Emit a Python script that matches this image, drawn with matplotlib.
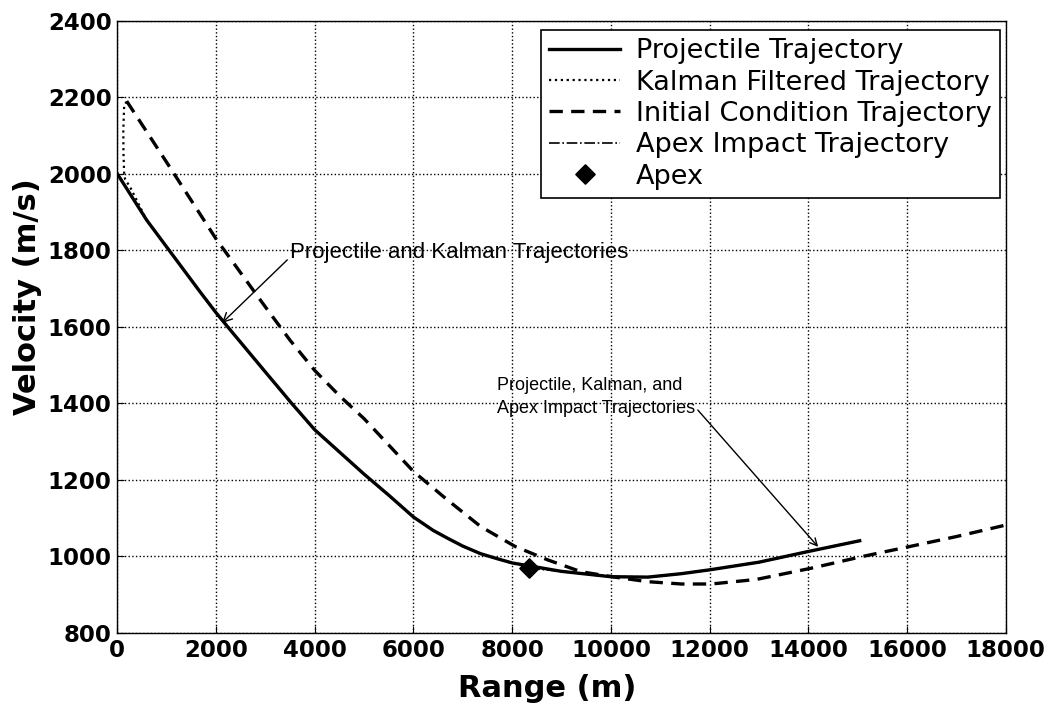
import matplotlib
matplotlib.use("Agg")
import matplotlib.pyplot as plt

proj_range = [0, 595, 1668, 2000, 2237, 3000, 3533, 4000, 5000, 5500, 6000, 6400,
              6685, 7000, 7363, 7700, 8000, 9000, 10000, 10750, 11430, 12000, 13000,
              14000, 15040]
proj_vel = [2000, 1879, 1693, 1637, 1600, 1482, 1400, 1331, 1215, 1160, 1103, 1068,
            1048, 1027, 1007, 994, 983, 961, 947, 946, 955, 965, 985, 1013, 1041]

kal_range = [190, 140, 122, 125, 140, 160, 257, 595, 1668, 2000, 2237, 3000, 3533, 4000,
             5000, 5500, 6000, 6400, 6685, 7000, 7363, 7700, 8000, 9000, 10000, 10750,
             11430, 12000, 13000, 14000, 15040]
kal_vel = [2188, 2180, 2114, 2054, 1997, 1985, 1966, 1879, 1693, 1637, 1600, 1482, 1400, 1331,
           1215, 1160, 1103, 1068, 1048, 1027, 1007, 994, 983, 961, 947, 946,
           955, 965, 985, 1013, 1041]

init_range = [190, 1000, 2000, 3000, 3500, 4000, 4500, 5000, 6000, 6685, 7363, 8061,
              8719, 9397, 10074, 10752, 11430, 12034, 12950, 14050, 15100, 16020, 17000,
              18000]
init_vel = [2190, 2030, 1830, 1652, 1565, 1486, 1420, 1360, 1222, 1148, 1078, 1026,
            991, 960, 946, 934, 928, 928, 940, 969, 1000, 1025, 1052, 1082]

apex_range = [8346, 9000, 10000, 10750, 11430, 12000, 13000, 14000, 15040]
apex_vel = [969, 961, 947, 946, 955, 965, 985, 1013, 1041]

apex_x, apex_y = 8346, 969

fig = plt.figure(figsize=(10.51, 7.07), dpi=100)
ax = fig.add_axes([0.1116, 0.1047, 0.8454, 0.866])

ax.plot(proj_range, proj_vel, color='black', lw=2.4, label='Projectile Trajectory')
ax.plot(kal_range, kal_vel, color='black', lw=1.6, linestyle=':', label='Kalman Filtered Trajectory')
ax.plot(init_range, init_vel, color='black', lw=2.4, linestyle=(0, (4, 2.5)),
        label='Initial Condition Trajectory')
ax.plot(apex_range, apex_vel, color='black', lw=1.2, linestyle='-.', label='Apex Impact Trajectory')
ax.plot([apex_x], [apex_y], linestyle='none', marker=(4, 0, 0), markersize=14,
        color='black', label='Apex')

ax.set_xlim(0, 18000)
ax.set_ylim(800, 2400)
ax.set_xticks(range(0, 18001, 2000))
ax.set_yticks(range(800, 2401, 200))
ax.grid(True, color='black', linestyle=':', linewidth=1.0)
ax.tick_params(direction='in', length=5, labelsize=16.5, pad=4)
for lab in ax.get_xticklabels() + ax.get_yticklabels():
    lab.set_fontweight('bold')
for sp in ax.spines.values():
    sp.set_linewidth(1.0)

ax.set_xlabel('Range (m)', fontsize=22, fontweight='bold', va='center')
ax.set_ylabel('Velocity (m/s)', fontsize=22, fontweight='bold', va='center')
ax.xaxis.set_label_coords(0.4835, -0.090)
ax.yaxis.set_label_coords(-0.1016, 0.55)

leg = ax.legend(loc='upper right', bbox_to_anchor=(1000 / 1051, 1 - 30 / 707),
                bbox_transform=fig.transFigure, borderaxespad=0,
                fontsize=19.5, frameon=True, fancybox=False, edgecolor='black',
                framealpha=1, handlelength=2.6, handletextpad=0.6,
                labelspacing=0.2, borderpad=0.3)
leg.get_frame().set_linewidth(1.2)

ax.annotate('Projectile and Kalman Trajectories', xy=(2121, 1610), xytext=(3500, 1793),
            fontsize=16, family='Liberation Sans', va='center',
            arrowprops=dict(arrowstyle='->', color='black', lw=1.0, shrinkA=0, shrinkB=0,
                            relpos=(0.0, 0.3)))
ax.annotate('Projectile, Kalman, and\nApex Impact Trajectories', xy=(14199, 1025),
            xytext=(7690, 1417), fontsize=13, family='Liberation Sans', va='center',
            linespacing=1.45,
            arrowprops=dict(arrowstyle='->', color='black', lw=1.0, shrinkA=0, shrinkB=0,
                            relpos=(1.0, 0.25)))

fig.savefig('out.png', dpi=100)
